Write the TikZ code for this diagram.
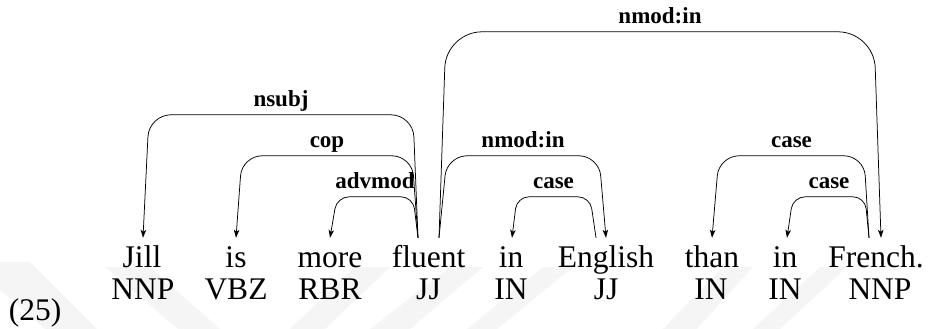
\documentclass[tikz,border=0pt]{standalone}
\usepackage{fontspec}
\setmainfont{Liberation Serif}
\usetikzlibrary{arrows.meta,calc}
\begin{document}
\begin{tikzpicture}[x=1pt,y=-1pt,
  word/.style={font=\fontsize{31.5}{33}\selectfont, anchor=base, inner sep=0pt, text height=21pt, text depth=0pt},
  tag/.style={font=\fontsize{31.5}{33}\selectfont, anchor=base, inner sep=0pt},
  lab/.style={font=\fontsize{23}{25}\selectfont\bfseries, anchor=base, inner sep=0pt, yshift=8pt},
  dep/.style={draw, line width=0.75pt, -{Stealth[length=8pt,width=5.5pt,inset=2pt]}},
  wm/.style={fill=black!4, draw=none}]
\useasboundingbox (0,0) rectangle (931,329);
% faint watermark bands
\fill[wm] (0,262) -- (30,262) -- (97,329) -- (45,329) -- (0,290) -- cycle;
\fill[wm] (105,267) -- (150,267) -- (220,329) -- (178,329) -- cycle;
\fill[wm] (355,267) -- (390,267) -- (325,329) -- (290,329) -- cycle;
\fill[wm] (450,267) -- (483,267) -- (410,329) -- (370,329) -- cycle;
\fill[wm] (543,267) -- (573,267) -- (497,329) -- (467,329) -- cycle;
\fill[wm] (723,267) -- (753,267) -- (697,329) -- (663,329) -- cycle;
\fill[wm] (820,267) -- (847,267) -- (780,329) -- (753,329) -- cycle;
% words
\node[word] (jill) at (142,267) {Jill};
\node[word] (is) at (236,267) {is};
\node[word] (more) at (330,267) {more};
\node[word] (fluent) at (428.5,267) {fluent};
\node[word] (in1) at (511,267) {in};
\node[word] (english) at (606,267) {English};
\node[word] (than) at (712,267) {than};
\node[word] (in2) at (785,267) {in};
\node[word] (french) at (876,267) {French.};
% tags
\node[tag] (t1) at (143,299) {NNP};
\node[tag] (t2) at (236,299) {VBZ};
\node[tag] (t3) at (330,299) {RBR};
\node[tag] (t4) at (428.5,299) {JJ};
\node[tag] (t5) at (511,299) {IN};
\node[tag] (t6) at (606,299) {JJ};
\node[tag] (t7) at (711,299) {IN};
\node[tag] (t8) at (785,299) {IN};
\node[tag] (t9) at (880,299) {NNP};
\node[tag] (num) at (35,320) {(25)};
% dependency edges
\draw[dep, rounded corners=22pt] ($(fluent.north)+(-10.5,-8)$) -- ($(fluent.north)+(-15.5,-131)$)
  -- node[lab] (lnsubj) {nsubj} ($(jill.north)+(7,-131)$) -- ($(jill.north)+(1,-8)$);
\draw[dep, rounded corners=20pt] ($(fluent.north)+(-10.5,-8)$) -- ($(fluent.north)+(-16.5,-90)$)
  -- node[lab] (lcop) {cop} ($(is.north)+(6,-90)$) -- ($(is.north)+(0,-8)$);
\draw[dep, rounded corners=12pt] ($(fluent.north)+(-10.5,-8)$) -- ($(fluent.north)+(-15.5,-49)$)
  -- node[lab] (ladv) {advmod} ($(more.north)+(7,-49)$) -- ($(more.north)+(0,-8)$);
\draw[dep, rounded corners=36pt] ($(fluent.north)+(10.5,-8)$) -- ($(fluent.north)+(17.5,-214)$)
  -- node[lab] (lnmodA) {nmod:in} ($(french.north)+(-2,-214)$) -- ($(french.north)+(5,-8)$);
\draw[dep, rounded corners=20pt] ($(fluent.north)+(10.5,-8)$) -- ($(fluent.north)+(18.5,-90)$)
  -- node[lab] (lnmodB) {nmod:in} ($(english.north)+(-7,-90)$) -- ($(english.north)+(0,-8)$);
\draw[dep, rounded corners=12pt] ($(english.north)+(-10,-8)$) -- ($(english.north)+(-16,-49)$)
  -- node[lab] (lcaseA) {case} ($(in1.north)+(6,-49)$) -- ($(in1.north)+(1,-8)$);
\draw[dep, rounded corners=20pt] ($(french.north)+(-7,-8)$) -- ($(french.north)+(-12,-90)$)
  -- node[lab] (lcaseB) {case} ($(than.north)+(7,-90)$) -- ($(than.north)+(0,-8)$);
\draw[dep, rounded corners=12pt] ($(french.north)+(-7,-8)$) -- ($(french.north)+(-11,-49)$)
  -- node[lab] (lcaseC) {case} ($(in2.north)+(8,-49)$) -- ($(in2.north)+(2,-8)$);
\end{tikzpicture}
\end{document}
